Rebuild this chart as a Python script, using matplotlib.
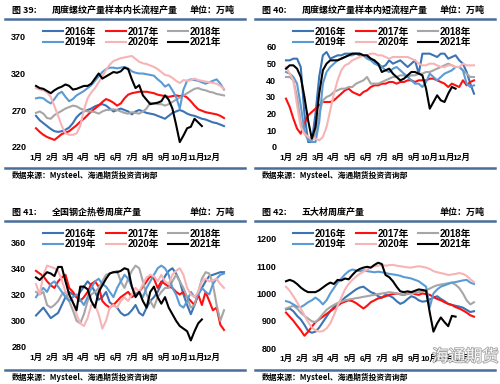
import matplotlib
matplotlib.use('Agg')
import numpy as np
from matplotlib import pyplot as plt
from matplotlib.lines import Line2D
from matplotlib.font_manager import FontProperties
import matplotlib.patheffects as pe

# ---- data (weekly) ----
years = ['2016年', '2017年', '2018年', '2019年', '2020年', '2021年']
colors = ['#3b73b5', '#ff1010', '#a6a6a6', '#5b9bd5', '#f7b4b6', '#000000']
months = ['1月', '2月', '3月', '4月', '5月', '6月', '7月', '8月', '9月', '10月', '11月', '12月']

# fig 39: long process rebar
long_2016 = [262,256,252,248,244,241,240,241,243,246,252,260,265,268,270,272,275,277,278,276,272,268,270,272,270,268,264,268,270,268,266,265,264,262,260,258,262,266,268,270,268,265,263,262,260,258,257,255,253,252,250,248]
long_2017 = [245,240,236,233,231,229,233,237,239,241,245,249,254,258,263,268,272,276,281,285,283,280,276,279,286,291,293,294,295,295,295,294,293,291,290,289,288,289,290,289,290,287,282,276,271,269,267,266,265,264,262,259]
long_2018 = [266,268,265,259,258,263,266,269,272,274,276,275,272,270,268,268,267,265,268,270,270,271,270,268,266,265,267,266,265,268,272,280,279,278,278,276,278,281,284,287,290,293,296,299,300,298,297,295,294,292,291,290]
long_2019 = [286,287,286,282,279,285,292,295,288,282,285,290,293,296,300,304,310,316,322,326,328,328,327,328,329,327,323,321,320,320,319,318,317,312,308,302,305,297,288,272,298,310,312,311,310,308,306,308,310,312,306,298]
long_2020 = [300,298,297,294,288,275,262,248,238,236,236,238,248,270,286,294,300,308,316,325,332,337,339,341,342,343,344,340,336,334,333,331,329,326,322,318,317,314,310,307,311,310,311,313,311,310,309,308,307,306,303,299]
long_2021 = [303,300,299,296,293,297,300,302,305,303,298,299,301,303,303,306,313,320,313,316,319,322,321,323,328,326,312,300,304,290,284,278,279,280,282,290,284,272,250,226,235,245,247,258,253,248]

# fig 40: short process rebar
short_2016 = [52,52,53,53,48,20,3,3,20,42,55,57,53,54,55,55,56,56,56,56,55,55,54,53,51,50,48,49,52,50,51,52,50,48,50,52,44,56,56,56,55,54,56,56,53,54,55,52,50,45,38,32]
short_2017 = [29,24,17,11,8,14,19,21,23,25,27,27,27,28,30,32,34,35,33,32,31,33,34,36,37,37,38,38,39,39,38,39,39,40,40,39,40,40,40,41,41,40,39,38,36,38,37,36,40,37,39,40]
short_2018 = [42,42,40,30,15,8,5,4,8,20,28,30,31,33,34,35,35,36,36,38,39,40,42,38,38,38,39,40,41,42,42,43,43,42,43,43,44,44,45,45,46,47,48,49,50,49,48,48,46,44,42,42]
short_2019 = [45,44,42,38,25,10,4,3,3,15,38,45,48,50,52,53,54,55,55,56,56,55,53,52,50,49,48,46,45,47,48,46,44,42,40,38,38,36,39,44,42,40,42,44,45,46,48,48,46,38,36,37]
short_2020 = [48,44,40,25,12,8,6,5,5,4,6,12,22,32,40,46,49,50,52,53,54,55,55,56,56,55,55,54,53,54,54,54,54,54,53,52,50,49,49,50,50,49,48,48,49,49,48,48,50,49,49,49]
short_2021 = [47,49,49,47,42,30,16,5,12,32,46,50,52,52,52,53,54,55,56,56,56,55,55,53,52,50,45,46,47,44,42,40,41,43,45,45,44,43,35,23,27,31,28,27,32,36,35]

# fig 41: hot rolled coil
hrc_2016 = [304,307,310,306,302,304,306,312,318,322,320,318,322,326,330,327,322,316,318,322,314,312,310,306,304,305,308,312,306,304,310,315,318,322,328,334,338,340,336,330,320,312,305,312,320,325,330,334,335,336,337,337]
hrc_2017 = [338,336,334,330,327,325,330,333,335,325,322,318,315,318,322,328,330,326,315,312,310,312,315,318,320,322,318,320,322,326,330,334,332,325,330,328,326,325,322,320,322,318,315,312,320,312,322,315,308,310,297,293]
hrc_2018 = [322,320,322,312,310,312,315,320,322,315,308,300,298,305,315,320,322,325,330,335,336,337,338,330,325,332,338,342,340,330,320,315,310,318,322,325,325,330,335,330,325,318,310,312,322,332,337,336,328,312,300,308]
hrc_2019 = [318,322,325,322,328,330,326,322,318,315,318,320,316,312,318,325,330,332,328,326,322,318,325,330,335,332,326,320,322,318,325,330,335,340,342,340,335,325,320,312,310,315,322,318,320,325,322,320,328,332,335,336]
hrc_2020 = [328,320,335,342,341,340,338,331,322,320,315,305,298,296,302,312,312,305,294,300,310,312,310,315,318,315,320,325,322,328,333,335,334,330,335,330,328,335,338,340,335,325,320,318,322,330,332,330,331,332,328,325]
hrc_2021 = [333,331,334,337,336,334,341,341,330,320,314,308,326,326,324,315,310,322,327,332,336,337,337,338,340,339,326,318,322,315,310,322,326,318,313,318,310,305,300,296,294,292,285,292,298,301]

# fig 42: five major products
five_2016 = [942,945,935,918,905,885,862,856,860,875,895,915,935,950,962,972,985,995,1005,1015,1022,1025,1015,1005,1000,990,985,995,992,985,972,962,968,980,990,985,975,970,972,978,985,990,980,972,962,958,955,952,948,940,932,935]
five_2017 = [930,915,900,882,865,845,860,878,895,905,915,925,935,945,955,965,970,975,972,965,955,945,955,968,975,982,985,990,995,998,1000,997,995,1000,1003,998,995,1000,998,995,988,980,975,968,962,958,950,945,938,930,920,915]
five_2018 = [945,950,955,945,930,918,908,898,895,908,925,940,950,958,965,970,975,978,980,983,985,988,990,993,995,998,1000,1002,1005,1003,1000,998,995,998,1000,1003,1005,1008,1012,1018,1025,1030,1033,1035,1038,1040,1032,1020,1000,975,960,968]
five_2019 = [972,968,960,952,950,958,968,975,985,975,960,975,1000,1020,1040,1055,1070,1082,1088,1085,1082,1085,1082,1080,1078,1080,1078,1075,1072,1070,1068,1065,1060,1058,1055,1050,1045,1035,1025,950,1000,1015,1025,1030,1035,1040,1042,1045,1048,1050,1040,1035]
five_2020 = [1025,1010,990,968,945,920,895,875,865,860,862,872,890,920,955,985,1015,1035,1050,1062,1072,1080,1088,1095,1100,1102,1105,1102,1104,1105,1102,1100,1098,1096,1095,1098,1100,1098,1095,1090,1082,1078,1075,1072,1068,1070,1072,1075,1072,1065,1052,1042]
five_2021 = [1045,1050,1045,1035,1022,1012,1005,1005,1005,1012,1022,1032,1040,1035,1050,1048,1055,1052,1068,1082,1090,1095,1098,1095,1105,1113,1108,1068,1060,1045,1025,1008,1005,1008,1005,1010,1015,1013,1010,930,860,890,912,895,880,918,915]

W, H = 500, 384
fig = plt.figure(figsize=(W/100, H/100), dpi=100)
fig.patch.set_facecolor('white')

cjk = ['Noto Sans CJK SC', 'DejaVu Sans']
num = ['Liberation Sans', 'Noto Sans CJK SC']
line_c = '#4a6d9c'

def fx(px): return px / W
def fy(py): return 1 - py / H


def draw_panel(ox, oy, fig_no, title, series, ylim, yticks, ytop_px, ybot_px):
    # header / footer
    fig.text(fx(ox+12), fy(oy+10), '图 ' + fig_no + ':', family=cjk, weight='bold', size=6.5, va='center')
    fig.text(fx(ox+52), fy(oy+10), title, family=cjk, weight='bold', size=6.5, va='center')
    fig.text(fx(ox+190), fy(oy+10), '单位：万吨', family=cjk, weight='bold', size=6.5, va='center')
    fig.add_artist(Line2D([fx(ox+5), fx(ox+245)], [fy(oy+19), fy(oy+19)], color=line_c, lw=1.8))
    fig.add_artist(Line2D([fx(ox+5), fx(ox+245)], [fy(oy+168), fy(oy+168)], color=line_c, lw=1.8))
    fig.text(fx(ox+12), fy(oy+175), '数据来源：Mysteel、海通期货投资咨询部', family=cjk, weight='bold', size=5.6, va='center')

    x0 = ox + 36
    ax = fig.add_axes([fx(x0), fy(ybot_px), 188/W, (ybot_px-ytop_px)/H])
    ax.set_facecolor('none')
    handles = []
    for yr, c, vals in zip(years, colors, series):
        wk = np.arange(1, len(vals)+1)
        h, = ax.plot(wk, vals, color=c, lw=1.5, label=yr, clip_on=False, solid_joinstyle='round')
        handles.append(h)
    ax.set_xlim(1, 52)
    ax.set_ylim(*ylim)
    for s in ax.spines.values():
        s.set_visible(False)
    ax.set_yticks(yticks)
    ax.set_yticklabels([str(t) for t in yticks], family=num, weight='bold', size=6.5)
    mpos = [1 + i*52/12 for i in range(12)]
    ax.set_xticks(mpos)
    ax.set_xticklabels(months, family=num, weight='bold', size=6)
    ax.tick_params(length=0)
    ax.tick_params(axis='y', pad=7)
    ax.tick_params(axis='x', pad=5)

    order = [0, 3, 1, 4, 2, 5]
    prop = FontProperties(family=num, weight='bold', size=7)
    ax.legend([handles[i] for i in order], [years[i] for i in order], ncol=3,
              loc='upper left', bbox_to_anchor=(fx(ox+43), fy(oy+26.5)),
              bbox_transform=fig.transFigure, frameon=False, borderpad=0,
              borderaxespad=0, handlelength=2.05, handletextpad=0.2,
              columnspacing=0.95, labelspacing=0.05, prop=prop)
    return ax


draw_panel(0, 0, '39', '周度螺纹产量样本内长流程产量',
           [long_2016, long_2017, long_2018, long_2019, long_2020, long_2021],
           (220, 370), [220, 270, 320, 370], 37, 146.5)
draw_panel(250, 0, '40', '周度螺纹产量样本内短流程产量',
           [short_2016, short_2017, short_2018, short_2019, short_2020, short_2021],
           (0, 60), [0, 10, 20, 30, 40, 50, 60], 47, 147)
draw_panel(0, 202, '41', '全国钢企热卷周度产量',
           [hrc_2016, hrc_2017, hrc_2018, hrc_2019, hrc_2020, hrc_2021],
           (280, 360), [280, 300, 320, 340, 360], 242, 347)
draw_panel(250, 202, '42', '五大材周度产量',
           [five_2016, five_2017, five_2018, five_2019, five_2020, five_2021],
           (800, 1200), [800, 900, 1000, 1100, 1200], 239, 348)

# watermark
wm = fig.text(fx(432), fy(357), '海通期货', family=cjk, size=12, color='white', va='center',
              alpha=0.9)
wm.set_path_effects([pe.withStroke(linewidth=1.2, foreground='#9a9a9a')])

fig.savefig('out.png', dpi=100)
